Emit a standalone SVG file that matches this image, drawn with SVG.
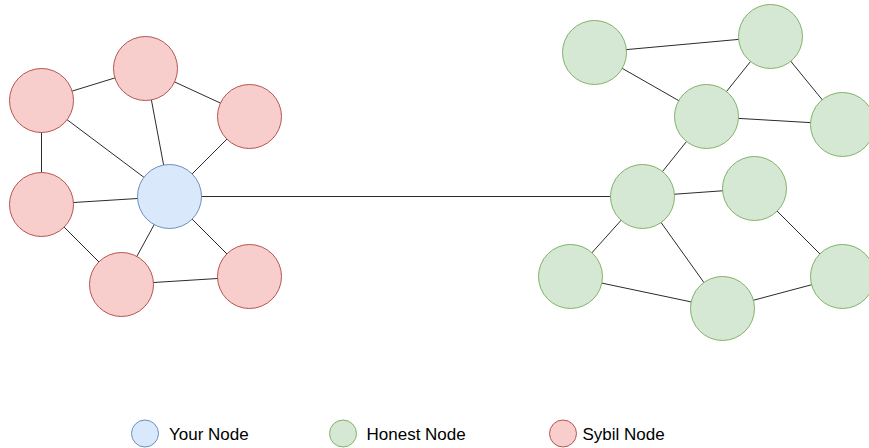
<svg xmlns="http://www.w3.org/2000/svg" width="869" height="448" viewBox="0 0 869 448">
  <style>
    .edge { stroke: #2b2b2b; stroke-width: 1; fill: none; }
    .you { fill: #dae8fc; stroke: #6c8ebf; stroke-width: 1; }
    .honest { fill: #d5e8d4; stroke: #82b366; stroke-width: 1; }
    .sybil { fill: #f8cecc; stroke: #b85450; stroke-width: 1; }
    .label { font-family: "Liberation Sans", Arial, sans-serif; font-size: 17px; fill: #000; }
  </style>
  <rect width="869" height="448" fill="#ffffff"/>

  <!-- connectors (drawn centre to centre, circles cover the ends) -->
  <g id="connectors">
    <!-- sybil cluster -->
    <line class="edge" x1="145.5" y1="68.5" x2="41.5" y2="100.5"/>
    <line class="edge" x1="145.5" y1="68.5" x2="249.5" y2="116.5"/>
    <line class="edge" x1="145.5" y1="68.5" x2="169.5" y2="196.5"/>
    <line class="edge" x1="41.5" y1="100.5" x2="41.5" y2="204.5"/>
    <line class="edge" x1="41.5" y1="100.5" x2="169.5" y2="196.5"/>
    <line class="edge" x1="249.5" y1="116.5" x2="169.5" y2="196.5"/>
    <line class="edge" x1="41.5" y1="204.5" x2="169.5" y2="196.5"/>
    <line class="edge" x1="41.5" y1="204.5" x2="121.5" y2="284.5"/>
    <line class="edge" x1="121.5" y1="284.5" x2="169.5" y2="196.5"/>
    <line class="edge" x1="121.5" y1="284.5" x2="249.5" y2="276.5"/>
    <line class="edge" x1="249.5" y1="276.5" x2="169.5" y2="196.5"/>
    <!-- bridge -->
    <line class="edge" x1="169.5" y1="196.5" x2="642.5" y2="196.5"/>
    <!-- honest cluster -->
    <line class="edge" x1="594.5" y1="52.5" x2="770.5" y2="36.5"/>
    <line class="edge" x1="594.5" y1="52.5" x2="706.5" y2="116.5"/>
    <line class="edge" x1="770.5" y1="36.5" x2="706.5" y2="116.5"/>
    <line class="edge" x1="770.5" y1="36.5" x2="842.5" y2="124.5"/>
    <line class="edge" x1="706.5" y1="116.5" x2="842.5" y2="124.5"/>
    <line class="edge" x1="706.5" y1="116.5" x2="642.5" y2="196.5"/>
    <line class="edge" x1="642.5" y1="196.5" x2="754.5" y2="188.5"/>
    <line class="edge" x1="642.5" y1="196.5" x2="570.5" y2="276.5"/>
    <line class="edge" x1="642.5" y1="196.5" x2="722.5" y2="308.5"/>
    <line class="edge" x1="570.5" y1="276.5" x2="722.5" y2="308.5"/>
    <line class="edge" x1="722.5" y1="308.5" x2="842.5" y2="276.5"/>
    <line class="edge" x1="754.5" y1="188.5" x2="842.5" y2="276.5"/>
  </g>

  <!-- sybil nodes -->
  <g id="sybil-1"><circle class="sybil" cx="145.5" cy="68.5" r="32"/></g>
  <g id="sybil-2"><circle class="sybil" cx="41.5" cy="100.5" r="32"/></g>
  <g id="sybil-3"><circle class="sybil" cx="249.5" cy="116.5" r="32"/></g>
  <g id="sybil-4"><circle class="sybil" cx="41.5" cy="204.5" r="32"/></g>
  <g id="sybil-5"><circle class="sybil" cx="121.5" cy="284.5" r="32"/></g>
  <g id="sybil-6"><circle class="sybil" cx="249.5" cy="276.5" r="32"/></g>

  <!-- own node -->
  <g id="your-node"><circle class="you" cx="169.5" cy="196.5" r="32"/></g>

  <!-- honest nodes -->
  <g id="honest-1"><circle class="honest" cx="594.5" cy="52.5" r="32"/></g>
  <g id="honest-2"><circle class="honest" cx="770.5" cy="36.5" r="32"/></g>
  <g id="honest-3"><circle class="honest" cx="706.5" cy="116.5" r="32"/></g>
  <g id="honest-4"><circle class="honest" cx="842.5" cy="124.5" r="32"/></g>
  <g id="honest-5"><circle class="honest" cx="642.5" cy="196.5" r="32"/></g>
  <g id="honest-6"><circle class="honest" cx="754.5" cy="188.5" r="32"/></g>
  <g id="honest-7"><circle class="honest" cx="570.5" cy="276.5" r="32"/></g>
  <g id="honest-8"><circle class="honest" cx="722.5" cy="308.5" r="32"/></g>
  <g id="honest-9"><circle class="honest" cx="842.5" cy="276.5" r="32"/></g>

  <!-- legend -->
  <g id="legend-your">
    <circle class="you" cx="145" cy="433.5" r="13.5"/>
    <text class="label" x="169" y="440">Your Node</text>
  </g>
  <g id="legend-honest">
    <circle class="honest" cx="343" cy="433.5" r="13.5"/>
    <text class="label" x="366.5" y="440">Honest Node</text>
  </g>
  <g id="legend-sybil">
    <circle class="sybil" cx="563" cy="433.5" r="13.5"/>
    <text class="label" x="582.5" y="440">Sybil Node</text>
  </g>
</svg>
